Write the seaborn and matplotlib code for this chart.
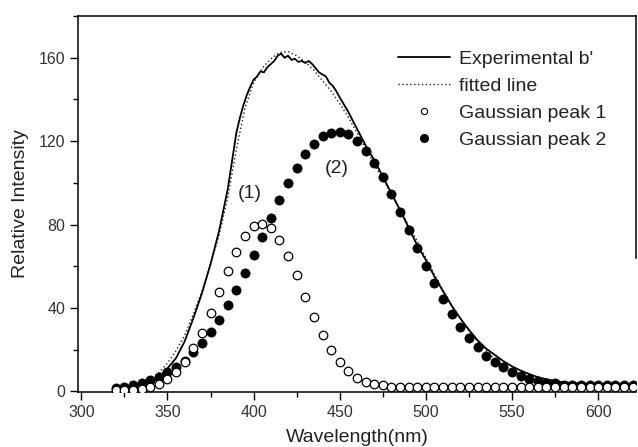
import numpy as np
import pandas as pd
import matplotlib
matplotlib.use("Agg")
import matplotlib.pyplot as plt
from matplotlib.lines import Line2D
from matplotlib.ticker import MultipleLocator
import seaborn as sns

# ---------------- data ----------------
exp_x = [320, 325, 330, 335, 340, 345, 350, 355, 360, 365, 370, 375, 380, 385,
         390, 392, 394, 396, 398, 400, 402, 404, 406, 408, 410, 412, 414, 416,
         418, 420, 422, 424, 426, 428, 430, 432, 434, 436, 438, 440, 442, 444,
         446, 448, 450, 455, 460, 465, 470, 475, 480, 485, 490, 495, 500, 505,
         510, 515, 520, 525, 530, 535, 540, 545, 550, 555, 560, 565, 570, 575,
         580, 585, 590, 595, 600, 605, 610, 615, 620]
exp_y = [0.5, 0.8, 1.2, 2.0, 3.5, 7, 11, 16, 24, 35, 47, 61, 77, 97,
         124, 131, 137, 142, 146, 149.5, 151, 153.5, 153, 155.5, 157, 158.5, 161, 162,
         160, 161, 159, 159.5, 158, 158.5, 157.5, 158.5, 157, 155, 153, 152, 151, 148,
         146.5, 144, 141, 134, 126, 118, 111, 103, 95, 87, 78.5, 70, 63, 55,
         48, 41, 35, 29.5, 24.5, 20.5, 17.5, 14.5, 12, 10, 8.3, 6.8, 5.8, 5,
         4.3, 4, 3.7, 3.6, 3.4, 3.3, 3.1, 3, 3]

fit_x = [320, 325, 330, 335, 340, 345, 350, 355, 360, 365, 370, 375, 380, 385,
         390, 395, 400, 405, 410, 415, 420, 425, 430, 435, 440, 445, 450, 455,
         460, 465, 470, 475, 480, 485, 490, 495, 500, 505, 510, 515, 520, 525,
         530, 535, 540, 545, 550, 555, 560, 565, 570, 575, 580, 585, 590, 600,
         610, 620]
fit_y = [1, 1.5, 2.2, 3.5, 5.5, 9, 13.5, 19.5, 27, 37, 48, 61, 75, 93,
         116, 136, 148, 155, 159.5, 162.5, 163, 161, 158, 154, 149, 144, 138, 131.5,
         124, 116.5, 109, 102, 94.5, 87, 79.5, 72, 64, 56, 48.5, 41.5, 35, 29,
         24, 19.5, 15.5, 12.5, 10, 8, 6.5, 5.3, 4.5, 4, 3.6, 3.3, 3.1, 3,
         2.9, 2.9]

peak_x = list(range(320, 621, 5))
peak1_y = [0.6, 0.8, 0.9, 1.2, 2.0, 3.7, 5.9, 9.2, 14, 20.7, 28.2, 37.4, 47.5, 57.7,
           66.9, 74.6, 79.2, 80.5, 78.4, 72.8, 65, 55.6, 45.4, 35.5, 27.2, 19.7, 14, 10,
           6.6, 4.5, 3.5, 2.9, 2.2, 2.2, 2.2, 2.2, 2.2, 2.2, 2.2, 2.2, 2.2, 2.2,
           2.2, 2.2, 2.2, 2.2, 2.2, 2.2, 2.2, 2.2, 2.2, 2.2, 2.2, 2.2, 2.2, 2.2,
           2.2, 2.2, 2.2, 2.2, 2.2]
peak2_y = [1.7, 2.2, 2.9, 3.8, 5.3, 6.9, 9.2, 11.6, 14.5, 19, 23.2, 28.3, 34.4, 41.5,
           48.7, 57, 65.4, 74.2, 83, 91.7, 100, 107.3, 113.7, 118.8, 122.4, 124, 124.6, 123.5,
           120.3, 115.5, 109.5, 102.8, 94.5, 86, 77.2, 68.6, 60.3, 51.9, 44.3, 37.1, 30.9, 25.6,
           21.3, 17.2, 14, 11.6, 9.4, 7.3, 6, 4.9, 4.1, 3.8, 3.3, 3.0, 2.9, 2.9,
           2.9, 2.9, 2.9, 2.9, 2.9]

legend_labels = ["Experimental b'", "fitted line", "Gaussian peak 1", "Gaussian peak 2"]
x_label = "Wavelength(nm)"
y_label = "Relative Intensity"

# ---------------- style ----------------
sns.set_theme(style="ticks")
plt.rcParams['font.family'] = ['Liberation Sans', 'DejaVu Sans']

exp_df = pd.DataFrame({"x": exp_x, "y": exp_y})
fit_df = pd.DataFrame({"x": fit_x, "y": fit_y})
p1_df = pd.DataFrame({"x": peak_x, "y": peak1_y})
p2_df = pd.DataFrame({"x": peak_x, "y": peak2_y})

fig = plt.figure(figsize=(6.38, 4.47), dpi=100)
ax = fig.add_axes([0.122, 0.123, 0.875, 0.841])

sns.lineplot(data=fit_df, x="x", y="y", ax=ax, color="#222222",
             linestyle=(0, (1, 1.8)), linewidth=1.0, zorder=2)
sns.lineplot(data=exp_df, x="x", y="y", ax=ax, color="black",
             linewidth=1.3, zorder=3)
sns.scatterplot(data=p2_df, x="x", y="y", ax=ax, marker="o", s=44,
                color="black", edgecolor="black", linewidth=0.5, zorder=4)
sns.scatterplot(data=p1_df, x="x", y="y", ax=ax, marker="o", s=38,
                facecolor="white", edgecolor="black", linewidth=0.9, zorder=5)

ax.set_xlim(298, 622)
ax.set_ylim(-0.3, 180)
ax.xaxis.set_major_locator(MultipleLocator(50))
ax.xaxis.set_minor_locator(MultipleLocator(25))
ax.yaxis.set_major_locator(MultipleLocator(40))
ax.yaxis.set_minor_locator(MultipleLocator(20))
ax.tick_params(axis="both", which="major", direction="out", length=6, width=1.0,
               labelsize=11.5, labelcolor="#333333", color="black", pad=3)
ax.tick_params(axis="both", which="minor", direction="out", length=3.5, width=1.0,
               color="black")

for side in ["left", "bottom", "top", "right"]:
    ax.spines[side].set_visible(True)
    ax.spines[side].set_color("black")
    ax.spines[side].set_linewidth(1.1)
ax.spines["right"].set_bounds(64, 180)

ax.set_xlabel(x_label, fontsize=14, color="#222222", labelpad=7)
ax.set_ylabel(y_label, fontsize=14, color="#222222", labelpad=7)

ax.text(398, 95, "(1)", fontsize=14, ha="center", va="center", color="#222222")
ax.text(448, 107, "(2)", fontsize=14, ha="center", va="center", color="#222222")

handles = [
    Line2D([], [], color="black", linewidth=1.3),
    Line2D([], [], color="#222222", linestyle=(0, (1, 1.8)), linewidth=1.0),
    Line2D([], [], linestyle="none", marker="o", markersize=4.5,
           markerfacecolor="white", markeredgecolor="black", markeredgewidth=0.8),
    Line2D([], [], linestyle="none", marker="o", markersize=5.5,
           markerfacecolor="black", markeredgecolor="black"),
]
leg = ax.legend(handles, legend_labels, loc="upper left", frameon=False,
                fontsize=14, handlelength=2.7, handletextpad=0.45,
                labelspacing=0.48, borderpad=0, borderaxespad=0,
                bbox_to_anchor=(0.573, 0.909))
for t in leg.get_texts():
    t.set_color("#222222")

fig.savefig("out.png", dpi=100)
